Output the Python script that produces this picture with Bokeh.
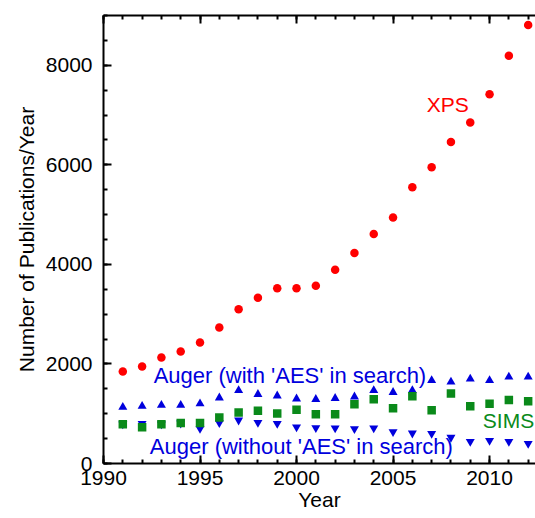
from bokeh.plotting import figure
from bokeh.models import (Range1d, LinearAxis, SingleIntervalTicker, Label,
                          CustomJSTickFormatter)
from bokeh.embed import file_html
from bokeh.resources import INLINE

years = list(range(1991, 2013))
xps = [1850, 1950, 2130, 2250, 2430, 2730, 3100, 3330, 3520, 3520, 3570,
       3890, 4230, 4610, 4940, 5550, 5950, 6460, 6850, 7420, 8190, 8810]
auger_with = [1130, 1150, 1170, 1170, 1200, 1320, 1470, 1390, 1360, 1300, 1290,
              1310, 1340, 1470, 1430, 1470, 1670, 1640, 1700, 1670, 1740, 1740]
auger_without = [790, 800, 790, 810, 700, 816, 870, 824, 804, 730, 716,
                 710, 696, 710, 635, 609, 603, 523, 442, 462, 442, 402]
sims = [790, 730, 790, 816, 816, 924, 1025, 1058, 1005, 1078, 991,
        991, 1192, 1292, 1111, 1353, 1071, 1407, 1152, 1198, 1278, 1252]

x_tick_interval = 5
y_tick_interval = 2000

labels = ["XPS", "Auger (with 'AES' in search)", "Auger (without 'AES' in search)", "SIMS"]
label_x = [2006.75, 1992.6, 1992.4, 2009.65]
label_y = [7218, 1765, 338, 870]
label_sizes = ["21px", "22px", "22px", "21px"]
label_colors = ["#FF0000", "#0000DD", "#0000DD", "#0A8A1A"]

FONT = "Liberation Sans"

p = figure(width=535, height=518, output_backend="svg", toolbar_location=None,
           x_range=Range1d(1990, 2012.38), y_range=Range1d(0, 9000),
           min_border_left=103, min_border_right=0, min_border_top=15,
           min_border_bottom=55)
p.outline_line_color = None
p.xgrid.visible = False
p.ygrid.visible = False
p.background_fill_color = "white"

p.xaxis.ticker = SingleIntervalTicker(interval=x_tick_interval, num_minor_ticks=5)
p.yaxis.ticker = SingleIntervalTicker(interval=y_tick_interval, num_minor_ticks=4)


def style_axis(ax):
    ax.axis_line_width = 2
    ax.axis_line_color = "black"
    ax.major_tick_in = 8
    ax.major_tick_out = 0
    ax.minor_tick_in = 4
    ax.minor_tick_out = 0
    ax.major_tick_line_width = 2
    ax.minor_tick_line_width = 2
    ax.major_tick_line_color = "black"
    ax.minor_tick_line_color = "black"
    ax.major_label_text_font = FONT
    ax.major_label_text_font_size = "21px"
    ax.major_label_text_color = "black"
    ax.axis_label_text_font = FONT
    ax.axis_label_text_font_size = "21px"
    ax.axis_label_text_font_style = "normal"
    ax.axis_label_text_color = "black"


for ax in p.xaxis + p.yaxis:
    style_axis(ax)
p.xaxis.major_label_standoff = 7
p.xaxis.axis_label = "Year"
p.xaxis.axis_label_standoff = 0
p.yaxis.major_label_standoff = 11
p.yaxis.axis_label = "Number of Publications/Year"
p.yaxis.axis_label_standoff = 5

top = LinearAxis(ticker=SingleIntervalTicker(interval=x_tick_interval, num_minor_ticks=5),
                 formatter=CustomJSTickFormatter(code="return ''"))
style_axis(top)
top.major_label_text_font_size = "0px"
top.major_label_standoff = 0
p.add_layout(top, "above")

p.scatter(years, auger_without, marker="inverted_triangle", size=9,
          color="#0000DD", line_color=None)
p.scatter(years, auger_with, marker="triangle", size=9,
          color="#0000DD", line_color=None)
p.scatter(years, sims, marker="square", size=8.5,
          color="#0A8A1A", line_color=None)
p.scatter(years, xps, marker="circle", size=8.5,
          color="#FF0000", line_color=None)

for t, lx, ly, fs, c in zip(labels, label_x, label_y, label_sizes, label_colors):
    p.add_layout(Label(x=lx, y=ly, text=t, text_color=c, text_font=FONT,
                       text_font_size=fs, text_baseline="middle",
                       text_align="left"))

open("out.html", "w").write(file_html(p, INLINE))
